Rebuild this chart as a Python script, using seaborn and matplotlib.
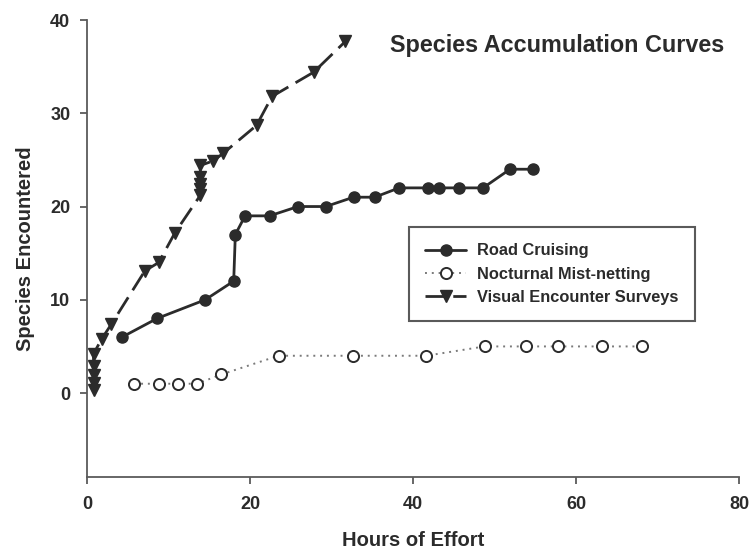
import matplotlib
matplotlib.use("Agg")
import matplotlib.pyplot as plt
import seaborn as sns
import pandas as pd

# Cumulative species counts against hours of survey effort
road_hours = [4.3, 8.6, 14.5, 18.0, 18.2, 19.4, 22.4, 25.9, 29.3, 32.7, 35.3,
              38.3, 41.8, 43.2, 45.6, 48.6, 51.9, 54.7]
road_species = [6, 8, 10, 12, 17, 19, 19, 20, 20, 21, 21, 22, 22, 22, 22, 22, 24, 24]

mist_hours = [5.8, 8.8, 11.2, 13.5, 16.5, 23.5, 32.6, 41.6, 48.8, 53.9, 57.8, 63.2, 68.1]
mist_species = [1, 1, 1, 1, 2, 4, 4, 4, 5, 5, 5, 5, 5]

ves_hours = [0.8, 0.8, 0.8, 0.8, 0.8, 1.8, 3.0, 7.1, 8.8, 10.8,
             13.9, 13.9, 13.9, 13.9, 13.9, 15.5, 16.7, 20.8, 22.7, 27.8, 31.7]
ves_species = [0.3, 1.1, 1.9, 2.9, 4.2, 5.8, 7.4, 13.1, 14.0, 17.2,
               21.2, 21.9, 22.4, 23.2, 24.4, 24.9, 25.7, 28.7, 31.8, 34.4, 37.7]

series_names = ["Road Cruising", "Nocturnal Mist-netting", "Visual Encounter Surveys"]
x_ticks = [0, 20, 40, 60, 80]
y_ticks = [0, 10, 20, 30, 40]

sns.set_style("ticks")
plt.rcParams["font.family"] = ["Liberation Sans", "DejaVu Sans"]
plt.rcParams["font.weight"] = "bold"
plt.rcParams["axes.labelweight"] = "bold"

ink = "#2b2b2b"
axis_grey = "#5a5a5a"

fig = plt.figure(figsize=(7.52, 5.57), dpi=100)
ax = fig.add_axes([87 / 752, 1 - 477 / 557, (739 - 87) / 752, (477 - 20) / 557])

road = pd.DataFrame({"hours": road_hours, "species": road_species})
mist = pd.DataFrame({"hours": mist_hours, "species": mist_species})
ves = pd.DataFrame({"hours": ves_hours, "species": ves_species})

sns.lineplot(data=road, x="hours", y="species", estimator=None, sort=False,
             color=ink, linewidth=2.0, marker="o", markersize=8,
             markerfacecolor=ink, markeredgecolor=ink, markeredgewidth=1,
             label=series_names[0], ax=ax)
sns.lineplot(data=mist, x="hours", y="species", estimator=None, sort=False,
             color="#7a7a7a", linewidth=1.4, linestyle=(0, (1, 2.5)),
             marker="o", markersize=8, markerfacecolor="white",
             markeredgecolor=ink, markeredgewidth=1.4,
             label=series_names[1], ax=ax)
sns.lineplot(data=ves, x="hours", y="species", estimator=None, sort=False,
             color=ink, linewidth=2.0, linestyle=(0, (7, 3)),
             marker="v", markersize=8, markerfacecolor=ink,
             markeredgecolor=ink, markeredgewidth=1,
             label=series_names[2], ax=ax)

ax.set_xlim(0, 80)
ax.set_ylim(-9, 40)
ax.set_xticks(x_ticks)
ax.set_yticks(y_ticks)
ax.tick_params(axis="both", direction="out", length=5, width=1.3,
               color=axis_grey, labelsize=13, labelcolor=ink)
ax.tick_params(axis="x", pad=9)
ax.tick_params(axis="y", pad=7)
for side in ("top", "right"):
    ax.spines[side].set_visible(False)
for side in ("left", "bottom"):
    ax.spines[side].set_color(axis_grey)
    ax.spines[side].set_linewidth(1.3)

ax.set_xlabel("Hours of Effort", fontsize=14.5, color=ink,
              fontweight="bold", labelpad=13)
ax.set_ylabel("Species Encountered", fontsize=14.5, color=ink,
              fontweight="bold", labelpad=11)

fig.text(557 / 752, 1 - 52 / 557, "Species Accumulation Curves",
         ha="center", va="baseline", fontsize=16.8, color=ink, fontweight="bold")

leg = ax.legend(loc="upper left", bbox_to_anchor=(409 / 752, 1 - 227 / 557),
                bbox_transform=fig.transFigure, borderaxespad=0,
                fontsize=11.8, handlelength=2.5, handletextpad=0.65,
                labelspacing=0.5, borderpad=1.0, fancybox=False,
                frameon=True, framealpha=1, edgecolor=axis_grey)
leg.get_frame().set_linewidth(1.5)
for t in leg.get_texts():
    t.set_color(ink)

fig.savefig("out.png", dpi=100)
